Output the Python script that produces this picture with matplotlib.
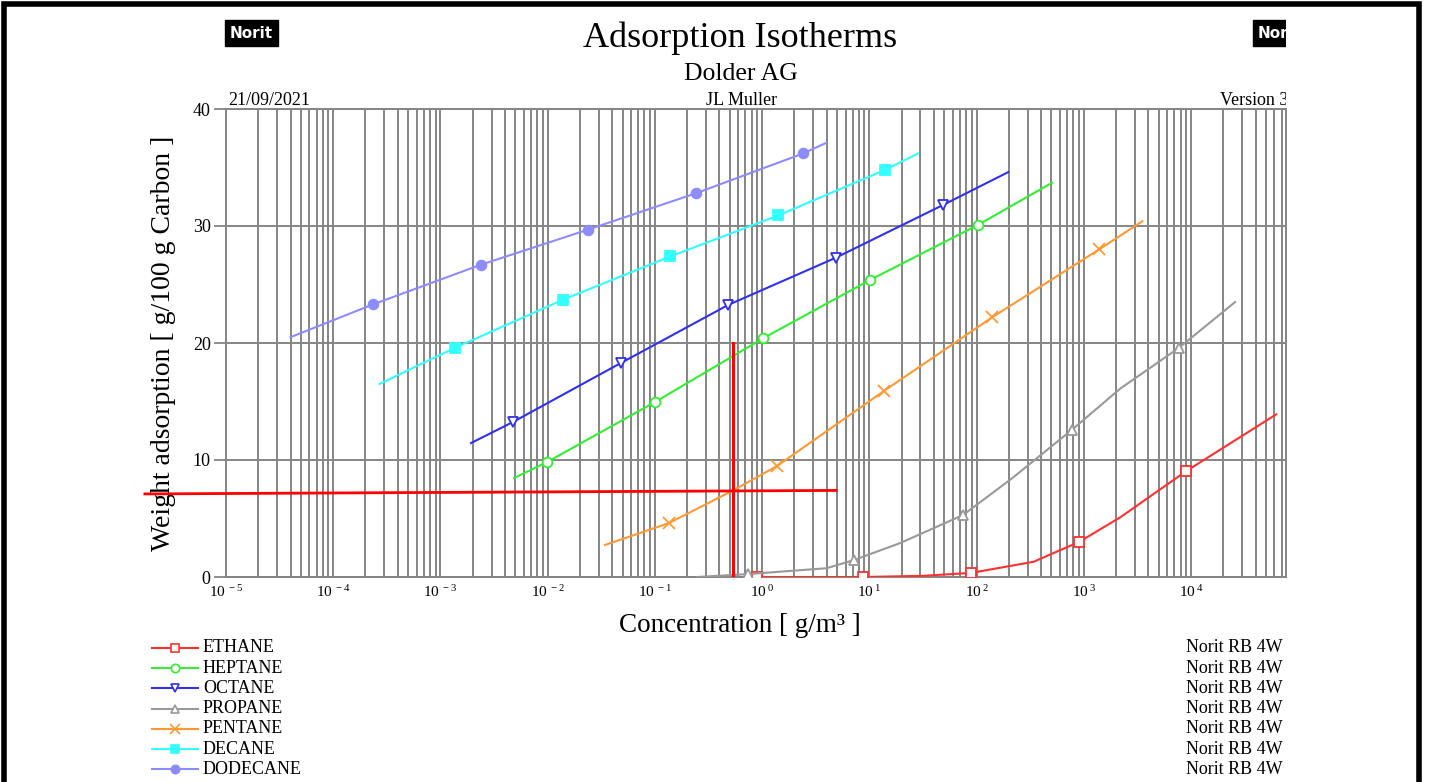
import numpy as np
import matplotlib.pyplot as plt
from matplotlib.lines import Line2D
from matplotlib.patches import Rectangle
from matplotlib.ticker import LogLocator, NullFormatter
from matplotlib.transforms import Bbox, TransformedBbox

# isotherm data, concentration in g/m3, weight in g/100 g carbon
names = ["ETHANE", "HEPTANE", "OCTANE", "PROPANE", "PENTANE", "DECANE", "DODECANE"]

ethane_conc = [0.82, 0.90, 8.75, 31.6, 89.0, 340, 906, 2190, 9020, 62400]
ethane_w = [0.0, 0.0, 0.0, 0.1, 0.35, 1.3, 3.0, 5.1, 9.05, 13.9]
ethane_marks = [1, 2, 4, 6, 8]

heptane_conc = [4.86e-3, 9.9e-3, 0.1005, 1.02, 10.2, 103.5, 507]
heptane_w = [8.46, 9.83, 14.96, 20.4, 25.4, 30.1, 33.7]
heptane_marks = [1, 2, 3, 4, 5]

octane_conc = [1.93e-3, 4.75e-3, 0.0484, 0.482, 4.90, 48.8, 197]
octane_w = [11.45, 13.25, 18.3, 23.25, 27.3, 31.8, 34.6]
octane_marks = [1, 2, 3, 4, 5]

propane_conc = [0.25, 0.74, 4.0, 7.2, 19.4, 75, 219, 780, 2190, 7760, 25800]
propane_w = [0.0, 0.25, 0.75, 1.45, 2.9, 5.3, 8.5, 12.6, 16.1, 19.6, 23.5]
propane_marks = [1, 3, 5, 7, 9]

pentane_conc = [0.0343, 0.136, 0.536, 1.38, 13.7, 140, 1393, 3510]
pentane_w = [2.74, 4.62, 7.4, 9.49, 15.9, 22.2, 28.0, 30.4]
pentane_marks = [1, 3, 4, 5, 6]

decane_conc = [2.7e-4, 1.37e-3, 0.0139, 0.139, 1.41, 14.0, 28.5]
decane_w = [16.5, 19.6, 23.7, 27.4, 30.9, 34.8, 36.2]
decane_marks = [1, 2, 3, 4, 5]

dodecane_conc = [4.0e-5, 2.35e-4, 2.4e-3, 0.024, 0.242, 2.41, 3.95]
dodecane_w = [20.5, 23.3, 26.7, 29.7, 32.8, 36.2, 37.1]
dodecane_marks = [1, 2, 3, 4, 5]

# red read-off lines
readoff_h_conc = [1.75e-6, 4.9]
readoff_h_w = [7.1, 7.4]
readoff_v_conc = [0.536, 0.536]
readoff_v_w = [0.0, 20.0]

decades = [-5, -4, -3, -2, -1, 0, 1, 2, 3, 4]
yticks = [0, 10, 20, 30, 40]

all_conc = [ethane_conc, heptane_conc, octane_conc, propane_conc,
            pentane_conc, decane_conc, dodecane_conc]
all_w = [ethane_w, heptane_w, octane_w, propane_w, pentane_w, decane_w, dodecane_w]
all_marks = [ethane_marks, heptane_marks, octane_marks, propane_marks,
             pentane_marks, decane_marks, dodecane_marks]
colors = ["#ff3030", "#33ee33", "#3030f0", "#999999", "#ff9933", "#33ffff", "#8c8cff"]
markers = ["s", "o", "v", "^", "x", "s", "o"]
filled = [False, False, False, False, False, True, True]

plt.rcParams['font.family'] = ['Liberation Serif', 'DejaVu Serif']
plt.rcParams['mathtext.fontset'] = 'custom'
plt.rcParams['mathtext.rm'] = 'Liberation Serif'

W, H = 1430, 782
fig = plt.figure(figsize=(W/100, H/100), dpi=100)

def fx(px):
    return px/W

def fy(py):
    return 1 - py/H

ax = fig.add_axes([fx(226), fy(577), fx(1286) - fx(226), fy(109) - fy(577)])
ax.set_xscale('log')
ax.set_xlim(1e-5, 7.7e4)
ax.set_ylim(0, 40)

gridc = '#858585'
ax.xaxis.set_minor_locator(LogLocator(base=10, subs=np.arange(2, 10), numticks=30))
ax.xaxis.set_minor_formatter(NullFormatter())
ax.set_xticks([10.0**e for e in decades])
ax.set_xticklabels(["$\\mathrm{10^{\\,%d}}$" % e for e in decades], fontsize=11)
ax.set_yticks(yticks)
ax.set_yticklabels([str(v) for v in yticks], fontsize=13)
ax.grid(which='both', axis='x', color=gridc, lw=1.4)
ax.grid(which='major', axis='y', color=gridc, lw=1.4)
ax.set_axisbelow(True)
for s in ax.spines.values():
    s.set_color(gridc)
    s.set_linewidth(1.4)
ax.tick_params(axis='x', which='both', length=0, pad=5)
ax.tick_params(axis='y', length=9, color=gridc, width=1.3, pad=2)

for conc, w, mk, c, m, f in zip(all_conc, all_w, all_marks, colors, markers, filled):
    ax.plot(conc, w, color=c, lw=1.5, marker=m, markevery=mk, ms=7 if m != 'x' else 8,
            mfc=c if f else 'white', mec=c, mew=1.3, zorder=3)

ax.plot(readoff_h_conc, readoff_h_w, color='red', lw=2, clip_on=False, zorder=4)
ax.plot(readoff_v_conc, readoff_v_w, color='red', lw=2.2, zorder=4)

ax.set_ylabel("Weight adsorption [ g/100 g Carbon ]", fontsize=20, labelpad=12)
fig.text(fx(740), fy(625), "Concentration [ g/m³ ]", fontsize=19.5, ha='center', va='center')

# header
fig.text(fx(740), fy(38), "Adsorption Isotherms", fontsize=26, ha='center', va='center')
fig.text(fx(741), fy(74), "Dolder AG", fontsize=18.5, ha='center', va='center')
fig.text(fx(228), fy(105), "21/09/2021", fontsize=13, ha='left', va='baseline')
fig.text(fx(742), fy(105), "JL Muller", fontsize=13, ha='center', va='baseline')

clip = TransformedBbox(Bbox([[0, 0], [fx(1286), 1]]), fig.transFigure)
t = fig.text(fx(1220), fy(105), "Version 3", fontsize=13, ha='left', va='baseline')
t.set_clip_box(clip)
t.set_clip_on(True)

logo_kw = dict(fontsize=11, fontweight='bold', color='white', family='DejaVu Sans',
               ha='left', va='center',
               bbox=dict(boxstyle='square,pad=0.35', fc='black', ec='black'))
fig.text(fx(230), fy(33), "Norit", **logo_kw)
t2 = fig.text(fx(1258), fy(33), "Norit", **logo_kw)
t2.set_clip_box(clip)
t2.set_clip_on(True)

# legend
for i, (name, c, m, f) in enumerate(zip(names, colors, markers, filled)):
    yy = fy(648 + i * 20.2)
    fig.add_artist(Line2D([fx(152), fx(198)], [yy, yy], color=c, lw=1.5))
    fig.add_artist(Line2D([fx(175)], [yy], marker=m, ms=6 if m != 'x' else 7,
                          mfc=c if f else 'white', mec=c, mew=1.2, color=c))
    fig.text(fx(203), yy, name, fontsize=13, ha='left', va='center')
    fig.text(fx(1283), yy, "Norit RB 4W", fontsize=13, ha='right', va='center')

# outer frame
fig.add_artist(Rectangle((fx(4), -0.05), fx(1419) - fx(4), fy(4) + 0.05,
                         transform=fig.transFigure, fill=False, ec='black', lw=4))

plt.savefig("out.png", dpi=100)
